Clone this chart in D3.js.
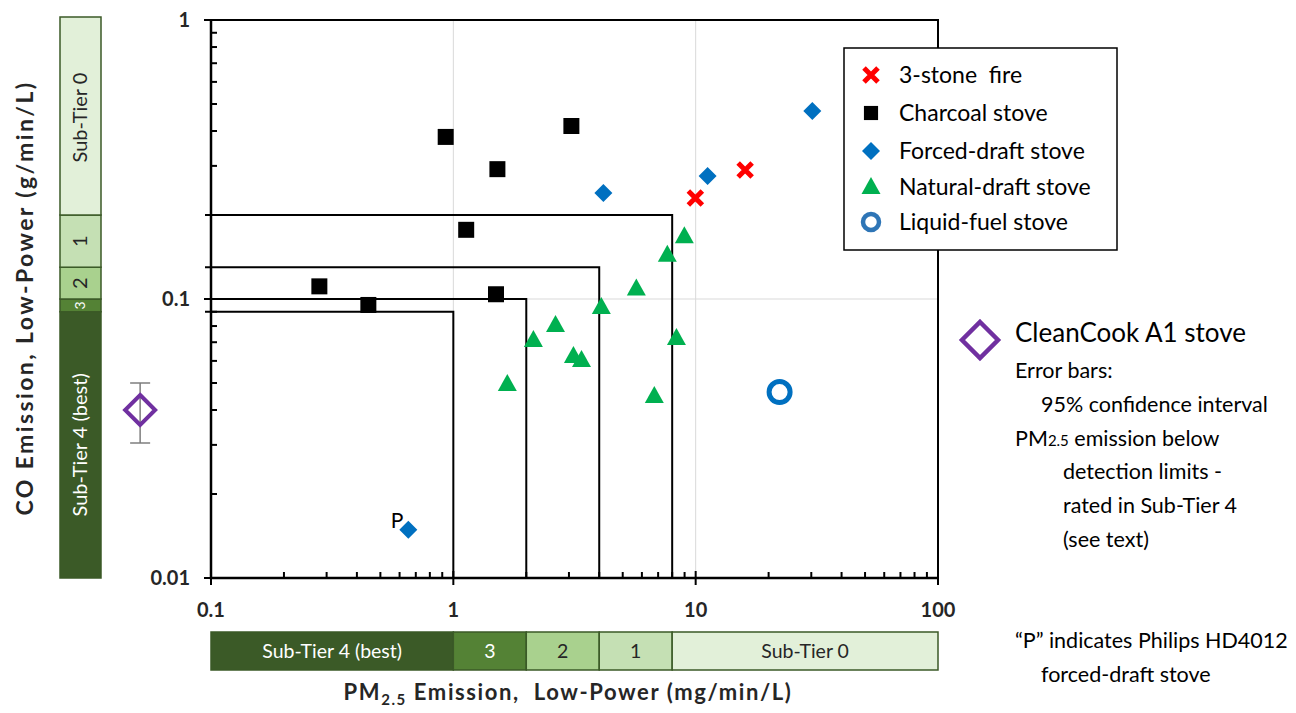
<!DOCTYPE html>
<html>
<head>
<meta charset="utf-8">
<script src="https://cdn.jsdelivr.net/npm/d3@7"></script>
<style>
  body { margin: 0; background: #fff; }
  svg { display: block; font-family: Lato, "Open Sans", sans-serif; }
  .pre { white-space: pre; }
</style>
</head>
<body>
<svg id="chart" width="1296" height="713"></svg>
<script>
// values
const threeStonePM = [9.97, 16.0];
const threeStoneCO = [0.23, 0.29];
const charcoalPM = [0.93, 3.07, 1.52, 1.13, 0.28, 0.446, 1.50];
const charcoalCO = [0.381, 0.417, 0.292, 0.177, 0.111, 0.0952, 0.104];
const forcedPM = [4.16, 11.2, 30.3, 0.652];
const forcedCO = [0.240, 0.276, 0.472, 0.0149];
const naturalPM = [8.98, 7.64, 5.69, 4.08, 2.64, 2.14, 3.13, 3.38, 8.33, 1.67, 6.75];
const naturalCO = [0.168, 0.144, 0.109, 0.0936, 0.0807, 0.0713, 0.0625, 0.0604, 0.0725, 0.0496, 0.0449];
const liquidPM = [22.2];
const liquidCO = [0.0464];
// CleanCook A1: PM below detection, drawn off the axis
const cleanCookPM = 0.051;
const cleanCookCO = [0.04];
const cleanCookCI = [0.0305, 0.05];

const pmTierLimits = [1, 2, 4, 8];
const coTierLimits = [0.09, 0.1, 0.13, 0.2];
const pmBandEdges = [0.1, 1, 2, 4, 8, 100];
const coBandEdges = [0.01, 0.09, 0.1, 0.13, 0.2, 1];
const tierNames = ['Sub-Tier 4 (best)', '3', '2', '1', 'Sub-Tier 0'];
const tierColors = ['#3b5a27', '#548235', '#a9d18e', '#c5e0b4', '#e2f0d9'];
const tierText = ['#fff', '#fff', '#262626', '#262626', '#262626'];

const xTicks = [0.1, 1, 10, 100];
const yTicks = [0.01, 0.1, 1];
const legendLabels = ['3-stone  fire', 'Charcoal stove', 'Forced-draft stove', 'Natural-draft stove', 'Liquid-fuel stove'];

const svg = d3.select('#chart');

const x = d3.scaleLog().domain([0.1, 100]).range([211, 938]);
const y = d3.scaleLog().domain([0.01, 1]).range([578, 20]);

// grid
const grid = svg.append('g');
grid.selectAll('.gx').data([1, 10]).enter().append('line')
  .attr('x1', d => x(d)).attr('x2', d => x(d))
  .attr('y1', y(1)).attr('y2', y(0.01))
  .attr('stroke', '#d9d9d9').attr('stroke-width', 1);
grid.selectAll('.gy').data([0.1]).enter().append('line')
  .attr('x1', x(0.1)).attr('x2', x(100))
  .attr('y1', d => y(d)).attr('y2', d => y(d))
  .attr('stroke', '#d9d9d9').attr('stroke-width', 1);

// tier boundary boxes
const tiers = pmTierLimits.map((pm, i) => ({ pm, co: coTierLimits[i] }));
svg.append('g').selectAll('path').data(tiers).enter().append('path')
  .attr('d', d => `M${x(0.1) - 6},${y(d.co)}H${x(d.pm)}V${y(0.01)}`)
  .attr('fill', 'none').attr('stroke', '#000').attr('stroke-width', 2);

// frame
svg.append('rect')
  .attr('x', x(0.1)).attr('y', y(1))
  .attr('width', x(100) - x(0.1)).attr('height', y(0.01) - y(1))
  .attr('fill', 'none').attr('stroke', '#000').attr('stroke-width', 2);
svg.append('path')
  .attr('d', `M${x(0.1)},${y(1)}V${y(0.01)}H${x(100)}`)
  .attr('fill', 'none').attr('stroke', '#000').attr('stroke-width', 2.5);

// ticks
const minor = [];
[0.01, 0.1, 1, 10].forEach(d => { for (let k = 2; k <= 9; k++) minor.push(d * k); });
const xMinor = minor.filter(d => d > 0.1 && d < 100);
const yMinor = minor.filter(d => d > 0.01 && d < 1);
const ticks = svg.append('g').attr('stroke', '#000').attr('stroke-width', 2);
ticks.selectAll('.xm').data(xMinor).enter().append('line')
  .attr('x1', d => x(d)).attr('x2', d => x(d))
  .attr('y1', y(0.01)).attr('y2', y(0.01) - 6);
ticks.selectAll('.ym').data(yMinor).enter().append('line')
  .attr('x1', x(0.1)).attr('x2', x(0.1) + 6)
  .attr('y1', d => y(d)).attr('y2', d => y(d));
ticks.selectAll('.xM').data(xTicks).enter().append('line')
  .attr('x1', d => x(d)).attr('x2', d => x(d))
  .attr('y1', y(0.01) - 7).attr('y2', y(0.01) + 7);
ticks.selectAll('.yM').data(yTicks).enter().append('line')
  .attr('x1', x(0.1) - 7).attr('x2', x(0.1) + 7)
  .attr('y1', d => y(d)).attr('y2', d => y(d));

const fmt = d => d3.format('~g')(d);
svg.append('g').selectAll('text').data(xTicks).enter().append('text')
  .attr('x', d => x(d)).attr('y', 617)
  .attr('text-anchor', 'middle')
  .attr('font-size', 20).attr('font-weight', 'bold').attr('fill', '#262626')
  .text(fmt);
svg.append('g').selectAll('text').data(yTicks).enter().append('text')
  .attr('x', 190).attr('y', d => y(d) + 7)
  .attr('text-anchor', 'end')
  .attr('font-size', 20).attr('font-weight', 'bold').attr('fill', '#262626')
  .text(fmt);

// tier bars
const pmBands = tierNames.map((name, i) => ({ name, a: pmBandEdges[i], b: pmBandEdges[i + 1], i }));
const coBands = tierNames.map((name, i) => ({ name, a: coBandEdges[i], b: coBandEdges[i + 1], i }));

const bottomBar = svg.append('g');
bottomBar.selectAll('rect').data(pmBands).enter().append('rect')
  .attr('x', d => x(d.a)).attr('width', d => x(d.b) - x(d.a))
  .attr('y', 632).attr('height', 38)
  .attr('fill', d => tierColors[d.i]).attr('stroke', '#3b5a27').attr('stroke-width', 1.5);
bottomBar.selectAll('text').data(pmBands).enter().append('text')
  .attr('x', d => (x(d.a) + x(d.b)) / 2).attr('y', 658)
  .attr('text-anchor', 'middle').attr('font-size', 19.5)
  .attr('fill', d => tierText[d.i])
  .text(d => d.name);

const leftBar = svg.append('g');
leftBar.selectAll('rect').data(coBands).enter().append('rect')
  .attr('x', 60).attr('width', 41)
  .attr('y', d => d.b === 1 ? y(d.b) - 3 : y(d.b))
  .attr('height', d => y(d.a) - y(d.b) + (d.b === 1 ? 3 : 0))
  .attr('fill', d => tierColors[d.i]).attr('stroke', '#3b5a27').attr('stroke-width', 1.5);
leftBar.selectAll('text').data(coBands).enter().append('text')
  .attr('transform', d => `translate(${d.i === 1 ? 85 : 87},${(y(d.a) + y(d.b)) / 2}) rotate(-90)`)
  .attr('text-anchor', 'middle')
  .attr('font-size', d => d.i === 1 ? 14 : 20)
  .attr('fill', d => tierText[d.i])
  .text(d => d.name);

// marker shapes
const xMark = 'M-7,-7L7,7M-7,7L7,-7';
const square = d3.symbol(d3.symbolSquare, 256)();
const diamond = 'M0,-9L9,0L0,9L-9,0Z';
const triangle = 'M0,-10L9.5,7L-9.5,7Z';

function drawPoints(pm, co, path, style) {
  const pts = pm.map((v, i) => ({ pm: v, co: co[i] }));
  const sel = svg.append('g').selectAll('path').data(pts).enter().append('path')
    .attr('transform', d => `translate(${x(d.pm)},${y(d.co)})`)
    .attr('d', path);
  style(sel);
  return pts;
}

drawPoints(charcoalPM, charcoalCO, square, s => s.attr('fill', '#000'));
const forcedPts = drawPoints(forcedPM, forcedCO, diamond, s => s.attr('fill', '#0070c0'));
drawPoints(naturalPM, naturalCO, triangle, s => s.attr('fill', '#00b050'));
drawPoints(threeStonePM, threeStoneCO, xMark, s => s.attr('fill', 'none').attr('stroke', '#ff0000').attr('stroke-width', 5));
svg.append('g').selectAll('circle').data(liquidPM.map((v, i) => ({ pm: v, co: liquidCO[i] }))).enter().append('circle')
  .attr('cx', d => x(d.pm)).attr('cy', d => y(d.co)).attr('r', 10.5)
  .attr('fill', 'none').attr('stroke', '#0070c0').attr('stroke-width', 5);

// Philips label
const philips = forcedPts[3];
svg.append('text')
  .attr('x', x(philips.pm) - 5).attr('y', y(philips.co) - 2)
  .attr('text-anchor', 'end').attr('font-size', 21).attr('fill', '#000')
  .text('P');

// CleanCook A1 with error bar
const cc = svg.append('g');
const ccx = x(cleanCookPM);
cc.append('path')
  .attr('d', `M${ccx},${y(cleanCookCI[1])}V${y(cleanCookCI[0])}M${ccx - 10},${y(cleanCookCI[1])}H${ccx + 10}M${ccx - 10},${y(cleanCookCI[0])}H${ccx + 10}`)
  .attr('stroke', '#7f7f7f').attr('stroke-width', 1.5).attr('fill', 'none');
cc.selectAll('path.d').data(cleanCookCO).enter().append('path')
  .attr('transform', d => `translate(${ccx},${y(d)})`)
  .attr('d', 'M0,-15L15,0L0,15L-15,0Z')
  .attr('fill', 'none').attr('stroke', '#7030a0').attr('stroke-width', 4);

// legend
const legend = svg.append('g').attr('transform', 'translate(844,48)');
legend.append('rect').attr('width', 273).attr('height', 202)
  .attr('fill', '#fff').attr('stroke', '#000').attr('stroke-width', 1.5);
const legendY = [27, 65, 103, 139, 174];
const items = legend.selectAll('g').data(legendLabels).enter().append('g')
  .attr('transform', (d, i) => `translate(27,${legendY[i]})`);
items.append('text').attr('class', 'pre').attr('x', 28).attr('y', 8)
  .attr('font-size', 23).attr('fill', '#000').text(d => d);
items.filter((d, i) => i === 0).append('path').attr('d', xMark)
  .attr('stroke', '#ff0000').attr('stroke-width', 5).attr('fill', 'none');
items.filter((d, i) => i === 1).append('path').attr('d', d3.symbol(d3.symbolSquare, 200)()).attr('fill', '#000');
items.filter((d, i) => i === 2).append('path').attr('d', diamond).attr('fill', '#0070c0');
items.filter((d, i) => i === 3).append('path').attr('d', triangle).attr('fill', '#00b050');
items.filter((d, i) => i === 4).append('circle').attr('r', 8)
  .attr('fill', 'none').attr('stroke', '#2e75b6').attr('stroke-width', 4.5);

// side notes
const notes = svg.append('g').attr('fill', '#000');
notes.append('path').attr('transform', 'translate(980,340)')
  .attr('d', 'M0,-18L18,0L0,18L-18,0Z')
  .attr('fill', 'none').attr('stroke', '#7030a0').attr('stroke-width', 4.5);
notes.append('text').attr('x', 1015).attr('y', 342).attr('font-size', 26).text('CleanCook A1 stove');
const noteLines = [
  [1015, 378, 'Error bars:'],
  [1041, 412, '95% confidence interval'],
  [1063, 479, 'detection limits -'],
  [1063, 513, 'rated in Sub-Tier 4'],
  [1063, 547, '(see text)'],
  [1015, 648, '\u201cP\u201d indicates Philips HD4012'],
  [1041, 682, 'forced-draft stove']
];
notes.selectAll('text.n').data(noteLines).enter().append('text')
  .attr('x', d => d[0]).attr('y', d => d[1]).attr('font-size', 21.5).text(d => d[2]);
const pmNote = notes.append('text').attr('x', 1015).attr('y', 446).attr('font-size', 21.5);
pmNote.append('tspan').text('PM');
pmNote.append('tspan').attr('font-size', 15).text('2.5');
pmNote.append('tspan').text(' emission below');

// axis titles
const xt = svg.append('text').attr('class', 'pre').attr('x', 568).attr('y', 700)
  .attr('text-anchor', 'middle').attr('font-size', 22).attr('font-weight', 'bold')
  .attr('letter-spacing', 1.6).attr('fill', '#262626');
xt.append('tspan').text('PM');
xt.append('tspan').attr('font-size', 15).attr('dy', 5).text('2.5');
xt.append('tspan').attr('dy', -5).text(' Emission,  Low-Power (mg/min/L)');

svg.append('text')
  .attr('transform', 'translate(33,298) rotate(-90)')
  .attr('text-anchor', 'middle').attr('font-size', 23).attr('font-weight', 'bold')
  .attr('letter-spacing', 2.4).attr('fill', '#262626')
  .text('CO Emission, Low-Power (g/min/L)');
</script>
</body>
</html>
